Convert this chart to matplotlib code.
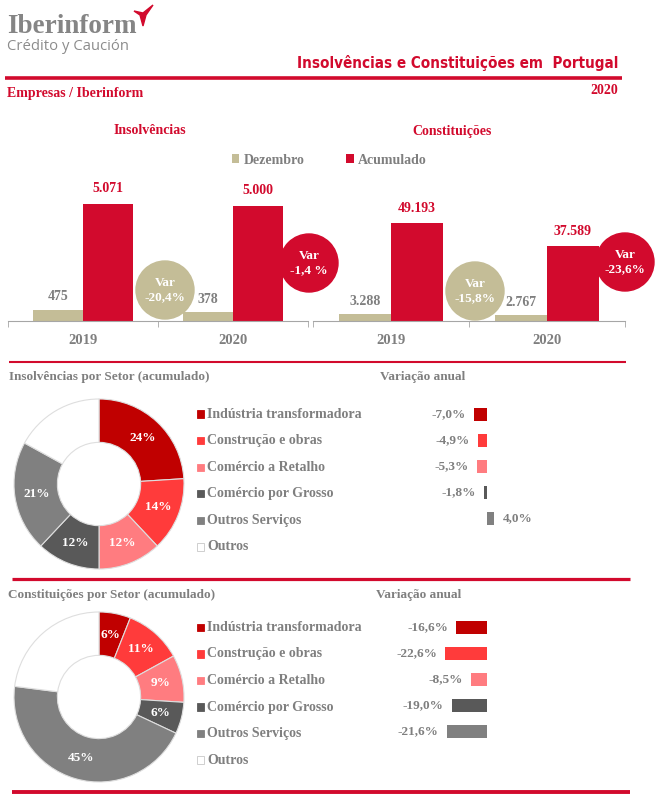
import matplotlib
matplotlib.use('Agg')
import numpy as np
import matplotlib.pyplot as plt
from matplotlib import font_manager
from matplotlib.patches import Circle, Rectangle, Polygon
from matplotlib.transforms import blended_transform_factory

W, H = 663, 808

# dados
anos = ['2019', '2020']
ins_dez = [475, 378]
ins_acum = [5071, 5000]
ins_var_tot = ['-20,4%', '-1,4 %']
con_dez = [3288, 2767]
con_acum = [49193, 37589]
con_var_tot = ['-15,8%', '-23,6%']

setores = ['Indústria transformadora', 'Construção e obras', 'Comércio a Retalho',
           'Comércio por Grosso', 'Outros Serviços', 'Outros']
ins_quota = [24, 14, 12, 12, 21, 17]
con_quota = [6, 11, 9, 6, 45, 23]
ins_var = [-7.0, -4.9, -5.3, -1.8, 4.0]
con_var = [-16.6, -22.6, -8.5, -19.0, -21.6]

RED = '#d20a2d'
BEIGE = '#c4bd97'
GRAY = '#7f7f7f'
cores = ['#c00000', '#ff3b3b', '#ff7c80', '#595959', '#808080', '#ffffff']
SERIF = ['Liberation Serif', 'DejaVu Serif']
# fonte condensada para o titulo, se existir
cond = any(f.name == 'DejaVu Sans' and f.stretch == 'condensed' for f in font_manager.fontManager.ttflist)
NARROW = ['Liberation Sans Narrow', 'DejaVu Sans'] if cond else ['Liberation Sans Narrow', 'Liberation Sans']

plt.rcParams['font.family'] = SERIF
plt.rcParams['font.weight'] = 'bold'

fig = plt.figure(figsize=(W / 100, H / 100), dpi=100)


def ax_px(l, t, r, b):
    return fig.add_axes([l / W, 1 - b / H, (r - l) / W, (b - t) / H])


def milhar(v):
    return f'{v:,}'.replace(',', '.')


def pct(v):
    return f'{v:.1f}%'.replace('.', ',')


# barras Dezembro / Acumulado
def barras(l, r, escala, dez, acum):
    base, topo = 321, 170
    ax = ax_px(l, topo, r, base)
    x = np.arange(len(anos))
    b1 = ax.bar(x - 1 / 6, dez, 1 / 3, color=BEIGE, label='Dezembro')
    b2 = ax.bar(x + 1 / 6, acum, 1 / 3, color=RED, label='Acumulado')
    ax.set_xlim(-0.5, 1.5)
    ax.set_ylim(0, (base - topo) / escala)
    for s in ['top', 'right', 'left']:
        ax.spines[s].set_visible(False)
    ax.spines['bottom'].set_color('#a6a6a6')
    ax.set_yticks([])
    ax.set_xticks(x)
    ax.set_xticklabels(anos, fontsize=10.5, color=GRAY, fontweight='bold')
    ax.tick_params(axis='x', which='major', length=0, pad=9.5)
    ax.set_xticks([-0.5, 0.5, 1.5], minor=True)
    ax.tick_params(axis='x', which='minor', length=4, color='#a6a6a6')
    for xi, v in zip(x - 1 / 6, dez):
        ax.annotate(milhar(v), (xi, v), xytext=(0, 9.5), textcoords='offset points',
                    ha='center', va='center', color=GRAY, fontsize=10)
    for xi, v in zip(x + 1 / 6, acum):
        ax.annotate(milhar(v), (xi, v), xytext=(0, 10.8), textcoords='offset points',
                    ha='center', va='center', color=RED, fontsize=10)
    return ax, b1, b2


ax1, h1, h2 = barras(8, 308, 117 / 5071, ins_dez, ins_acum)
ax2, _, _ = barras(313, 625, 98 / 49193, con_dez, con_acum)

fig.legend([h1, h2], ['Dezembro', 'Acumulado'], loc='center', bbox_to_anchor=(329 / W, 1 - 160 / H),
           ncol=2, frameon=False, handlelength=0.55, handleheight=0.55, handletextpad=0.3,
           columnspacing=3.0, borderpad=0, borderaxespad=0,
           prop={'family': SERIF, 'weight': 'bold', 'size': 10}, labelcolor=GRAY)


# donut e variacao anual
def setor(cy, quota, var, row0, passo_leg):
    r = 85
    ax = ax_px(99 - r, cy - r, 99 + r, cy + r)
    wedges, _ = ax.pie(quota, colors=cores, startangle=90, counterclock=False, radius=1,
                       wedgeprops=dict(width=0.51, edgecolor='#dedede', linewidth=0.8))
    ax.set_xlim(-1, 1)
    ax.set_ylim(-1, 1)
    for w, q in zip(wedges[:-1], quota[:-1]):
        a = np.deg2rad((w.theta1 + w.theta2) / 2)
        ax.text(0.745 * np.cos(a), 0.745 * np.sin(a), f'{q}%', ha='center', va='center',
                color='white', fontsize=9.5)

    av = ax_px(420, row0 - 13, 540, row0 + 26 * 4 + 13)
    y = np.arange(len(var))
    av.barh(y, var, height=0.5, color=cores[:len(var)])
    av.set_ylim(4.5, -0.5)
    av.set_xlim(-(487 - 420) / 1.86, (540 - 487) / 1.86)
    av.axis('off')
    for yi, v in zip(y, var):
        off = -5.8 if v < 0 else 5.8
        av.annotate(pct(v), (v, yi), xytext=(off, 0), textcoords='offset points',
                    ha='right' if v < 0 else 'left', va='center', color=GRAY, fontsize=9.5)

    tr = blended_transform_factory(fig.transFigure, av.transData)
    for i, nome in enumerate(setores):
        yl = i * passo_leg / 26
        av.add_patch(Rectangle((197 / W, yl - 0.14), 7 / W, 0.28, transform=tr, clip_on=False,
                               facecolor=cores[i], edgecolor='#c8c8c8' if i == 5 else cores[i],
                               linewidth=0.6))
        av.text(207 / W, yl, nome, transform=tr, ha='left', va='center', color=GRAY, fontsize=10)


setor(484, ins_quota, ins_var, 414, 26.6)
setor(697, con_quota, con_var, 627.5, 26.5)

# elementos graficos
deco = ax_px(0, 0, W, H)
deco.set_xlim(0, W)
deco.set_ylim(H, 0)
deco.axis('off')
deco.set_zorder(10)

deco.hlines(78, 5, 622, color=RED, lw=2.6)
deco.hlines(362, 9, 626, color=RED, lw=1.5)
deco.hlines(579, 12, 630, color=RED, lw=2.3)
deco.hlines(792, 12, 630, color=RED, lw=2.8)

circulos = [(165, 290, BEIGE, ins_var_tot[0]), (309, 263, RED, ins_var_tot[1]),
            (475, 291, BEIGE, con_var_tot[0]), (625, 262, RED, con_var_tot[1])]
for cx, cy, c, t in circulos:
    deco.add_patch(Circle((cx, cy), 29, color=c, clip_on=False))
    deco.text(cx, cy, 'Var\n' + t, ha='center', va='center', color='white', fontsize=9.5,
              linespacing=1.15)

rend = fig.canvas.get_renderer()


def ajustar(t, largura):
    w = t.get_window_extent(rend).width
    t.set_fontsize(t.get_fontsize() * largura / w)


t = deco.text(7, 33, 'Iberinform', ha='left', va='baseline', color='#858585', fontsize=19.5)
ajustar(t, 130)
t = deco.text(7, 50, 'Crédito y Caución', ha='left', va='baseline', color='#8c8c8c',
              fontsize=12, family=['Open Sans', 'DejaVu Sans'], fontweight='normal')
ajustar(t, 121)
deco.add_patch(Polygon([(134, 11), (143, 13), (153, 5), (146, 15), (143, 26), (140, 15)],
                       closed=True, color=RED))

t = deco.text(618, 63, 'Insolvências e Constituições em  Portugal', ha='right', va='center',
              color=RED, fontsize=13, family=NARROW, fontweight='bold', fontstretch='condensed')
ajustar(t, 322)
deco.text(7, 93, 'Empresas / Iberinform', ha='left', va='center', color=RED, fontsize=10)
deco.text(618, 91, '2020', ha='right', va='center', color=RED, fontsize=10)

deco.text(150, 131, 'Insolvências', ha='center', va='center', color=RED, fontsize=10)
deco.text(452, 131, 'Constituições', ha='center', va='center', color=RED, fontsize=10)

deco.text(9, 377, 'Insolvências por Setor (acumulado)', ha='left', va='center', color=GRAY, fontsize=9.5)
deco.text(380, 377, 'Variação anual', ha='left', va='center', color=GRAY, fontsize=9.5)
deco.text(8, 595, 'Constituições por Setor (acumulado)', ha='left', va='center', color=GRAY, fontsize=9.5)
deco.text(376, 595, 'Variação anual', ha='left', va='center', color=GRAY, fontsize=9.5)

fig.savefig('out.png', dpi=100)
